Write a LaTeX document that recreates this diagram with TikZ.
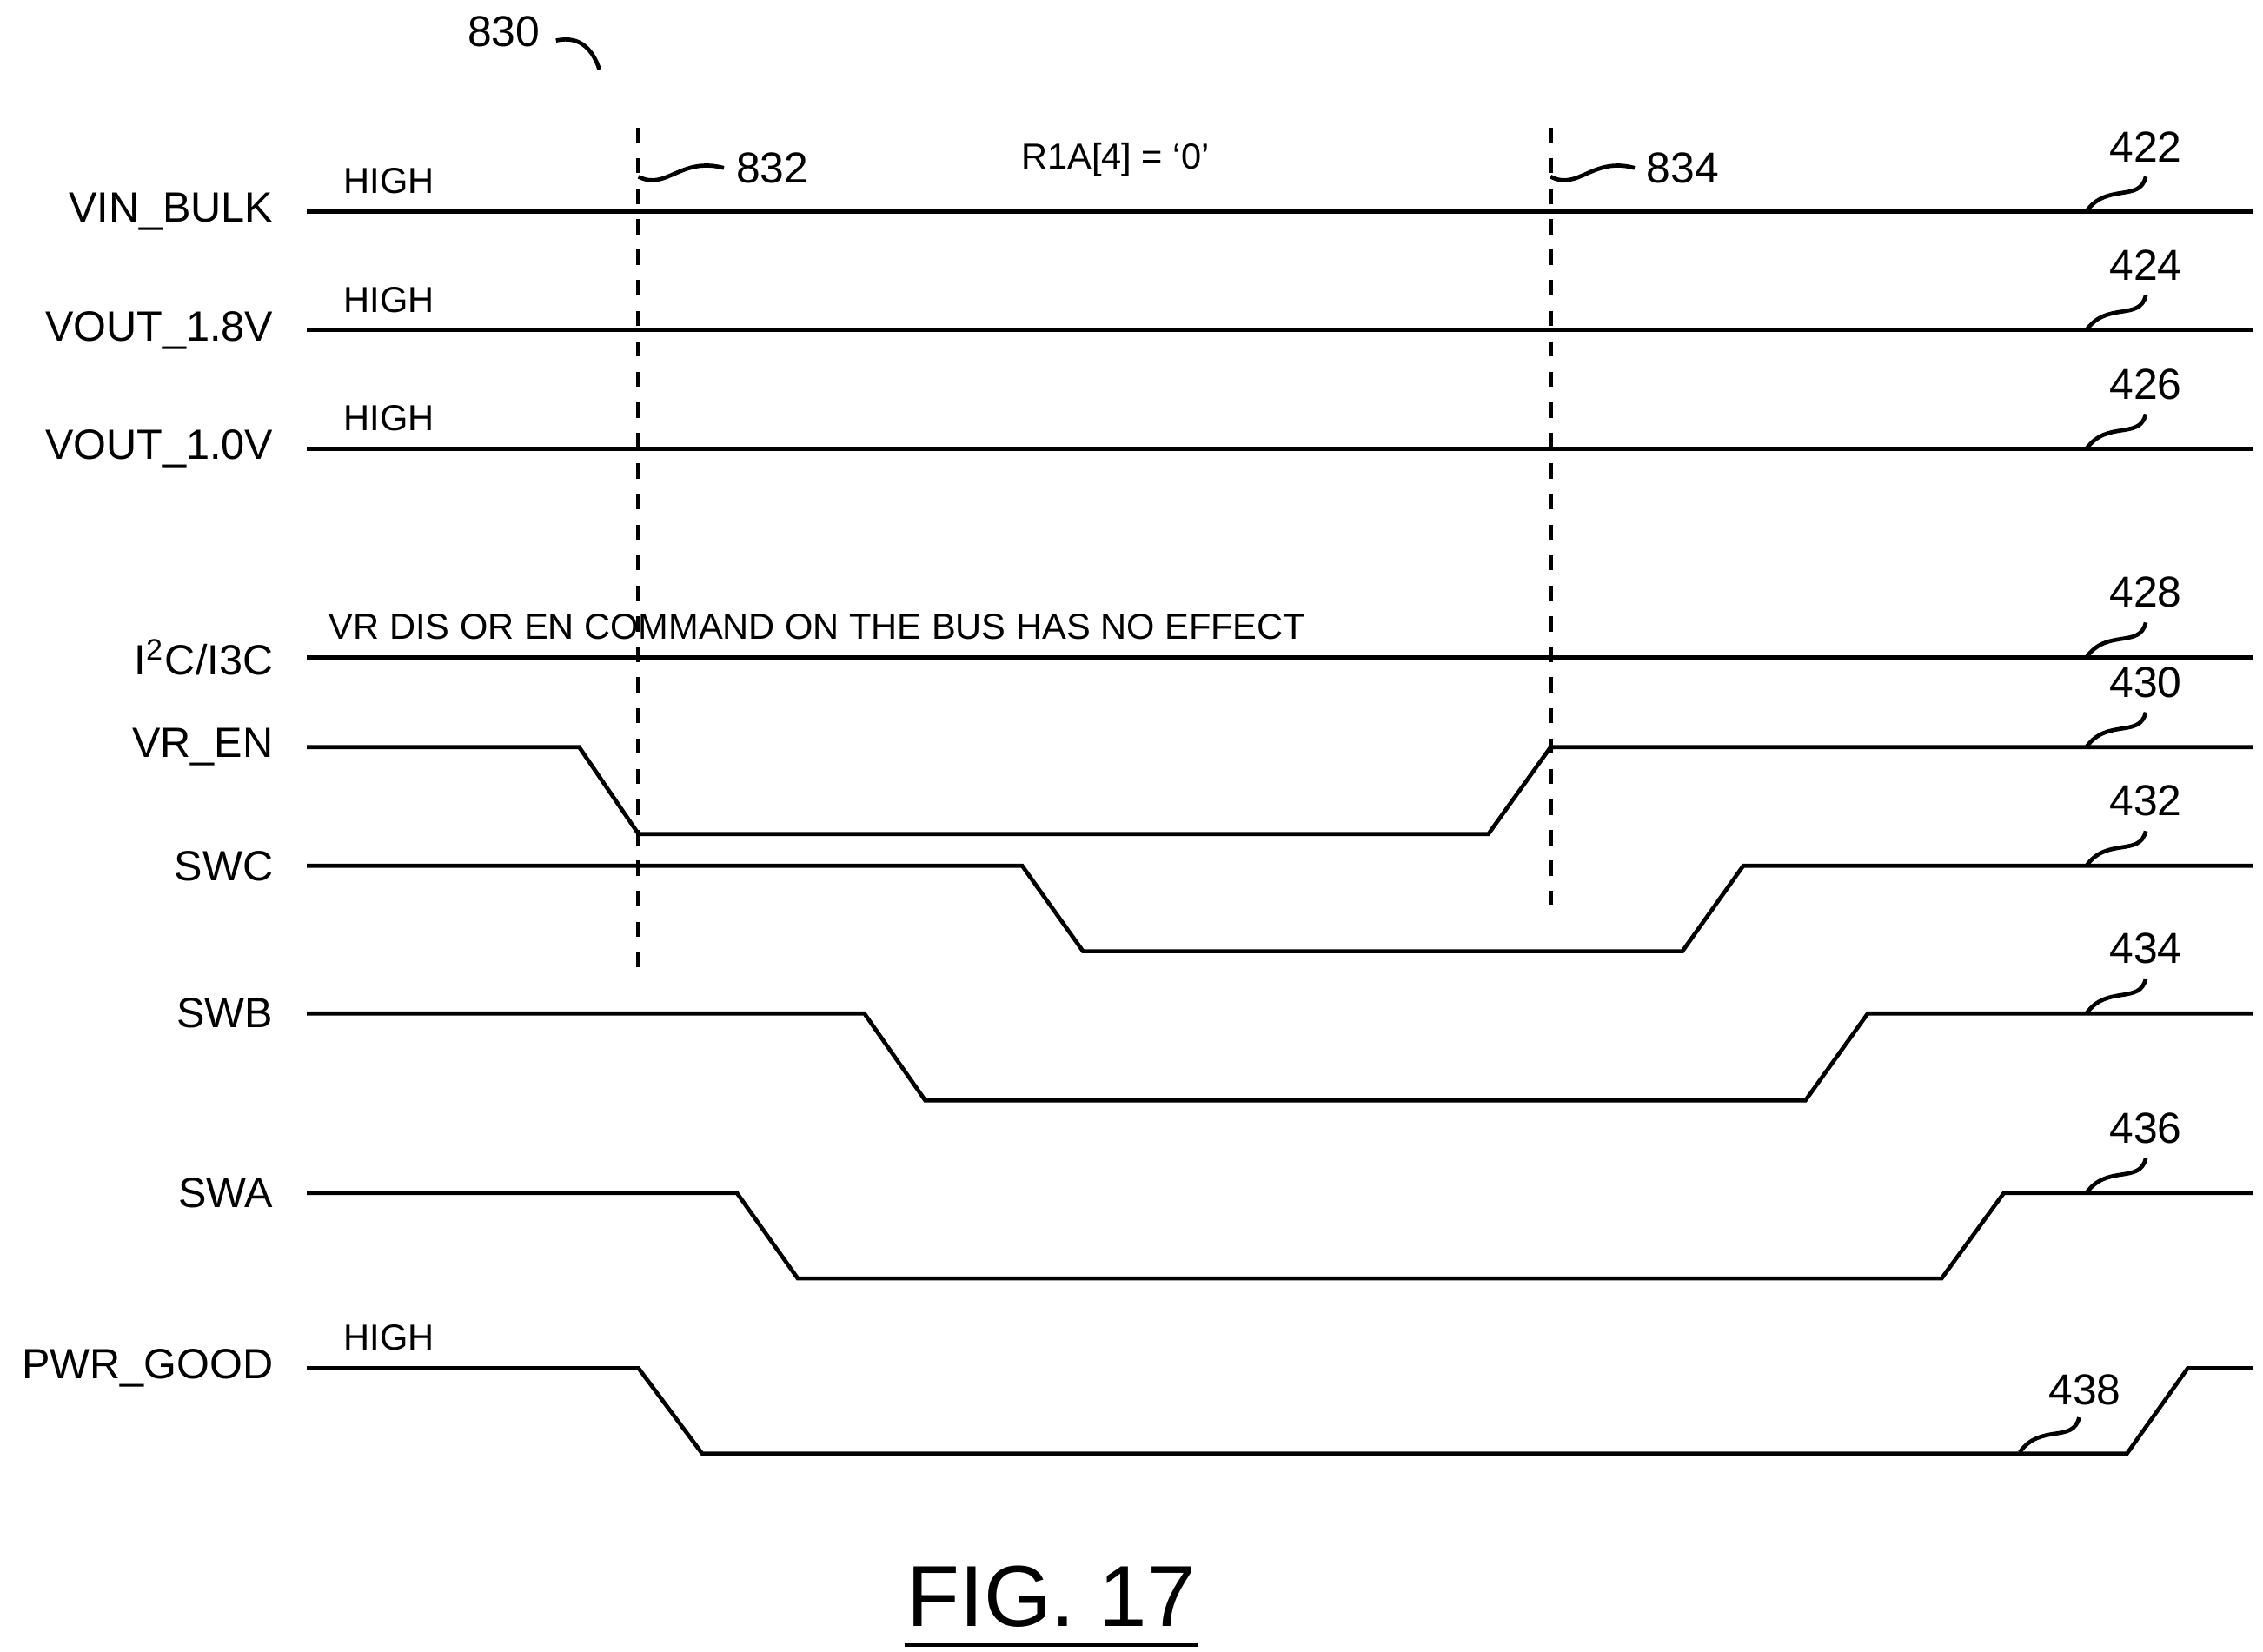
\documentclass[tikz,border=0pt]{standalone}
\usepackage{fontspec}
\setmainfont{Liberation Sans}
\usepackage{tikz}

\begin{document}
\begin{tikzpicture}[x=0.01cm,y=-0.01cm,line width=0.8pt,
  siglabel/.style={anchor=east,inner sep=0pt,font=\fontsize{8.3}{10}\selectfont},
  note/.style={anchor=west,inner sep=0pt,font=\fontsize{7.1}{9}\selectfont},
  refnum/.style={inner sep=0pt,font=\fontsize{8.5}{10}\selectfont},
  marker/.style={dashed,line width=0.9pt}]
  \useasboundingbox (0,0) rectangle (1563,1141);
  % signal names
  \node[siglabel] (vin)  at (190,146) {VIN\_BULK};
  \node[siglabel] (v18)  at (190,228) {VOUT\_1.8V};
  \node[siglabel] (v10)  at (190,310) {VOUT\_1.0V};
  \node[siglabel] (bus)  at (190,454) {I\textsuperscript{2}C/I3C};
  \node[siglabel] (vren) at (190,516) {VR\_EN};
  \node[siglabel] (swc)  at (190,598) {SWC};
  \node[siglabel] (swb)  at (190,700) {SWB};
  \node[siglabel] (swa)  at (190,824) {SWA};
  \node[siglabel] (pg)   at (190,945) {PWR\_GOOD};
  % notes
  \node[note] (h1) at (236,125) {HIGH};
  \node[note] (h2) at (236,207) {HIGH};
  \node[note] (h3) at (236,289) {HIGH};
  \node[note] (h4) at (236,924) {HIGH};
  \node[note] (cmd) at (226,433) {VR DIS OR EN COMMAND ON THE BUS HAS NO EFFECT};
  \node[note] (reg) at (704,110) {R1A[4] = `0'};
  % waveforms
  \draw (212,146) -- (1556,146);
  \draw (212,228) -- (1556,228);
  \draw (212,310) -- (1556,310);
  \draw (212,454) -- (1556,454);
  \draw (212,516) -- (400,516) -- (441,576) -- (1028,576) -- (1071,516) -- (1556,516);
  \draw (212,598) -- (706,598) -- (748,657) -- (1162,657) -- (1204,598) -- (1556,598);
  \draw (212,700) -- (597,700) -- (639,760) -- (1247,760) -- (1290,700) -- (1556,700);
  \draw (212,824) -- (509,824) -- (551,883) -- (1341,883) -- (1384,824) -- (1556,824);
  \draw (212,945) -- (441,945) -- (485,1004) -- (1469,1004) -- (1511,945) -- (1556,945);
  % time markers
  \coordinate (t1) at (441,88);
  \coordinate (t1e) at (441,678);
  \coordinate (t2) at (1071,88);
  \coordinate (t2e) at (1071,625);
  \draw[marker] (t1) -- (t1e);
  \draw[marker] (t2) -- (t2e);
  % reference numerals
  \node[refnum] (n830) at (348,22) {830};
  \draw (384,28) .. controls (402,24) and (410,36) .. (414,48);
  \node[refnum,anchor=west] (n832) at (507,116) {832};
  \draw (441,122) .. controls (460,132) and (470,108) .. ([xshift=-2]n832.west);
  \node[refnum,anchor=west] (n834) at (1136,116) {834};
  \draw (1071,122) .. controls (1090,132) and (1100,108) .. ([xshift=-2]n834.west);
  \foreach \y/\num in {146/422,228/424,310/426,454/428,516/430,598/432,700/434,824/436}
    \draw (1441,\y) .. controls (1455,\y-20) and (1478,\y-6) .. (1482,\y-24)
      node[refnum,anchor=south,yshift=2.5pt] {\num};
  \node[refnum] (n438) at (1440,960) {438};
  \draw (1395,1003) .. controls (1409,983) and (1432,997) .. (1436,979);
  % title
  \node[inner sep=0pt,font=\fontsize{17}{20}\selectfont] (fig) at (726,1103) {FIG. 17};
  \draw ([yshift=-3pt]fig.south west) -- ([yshift=-3pt]fig.south east);
\end{tikzpicture}
\end{document}
